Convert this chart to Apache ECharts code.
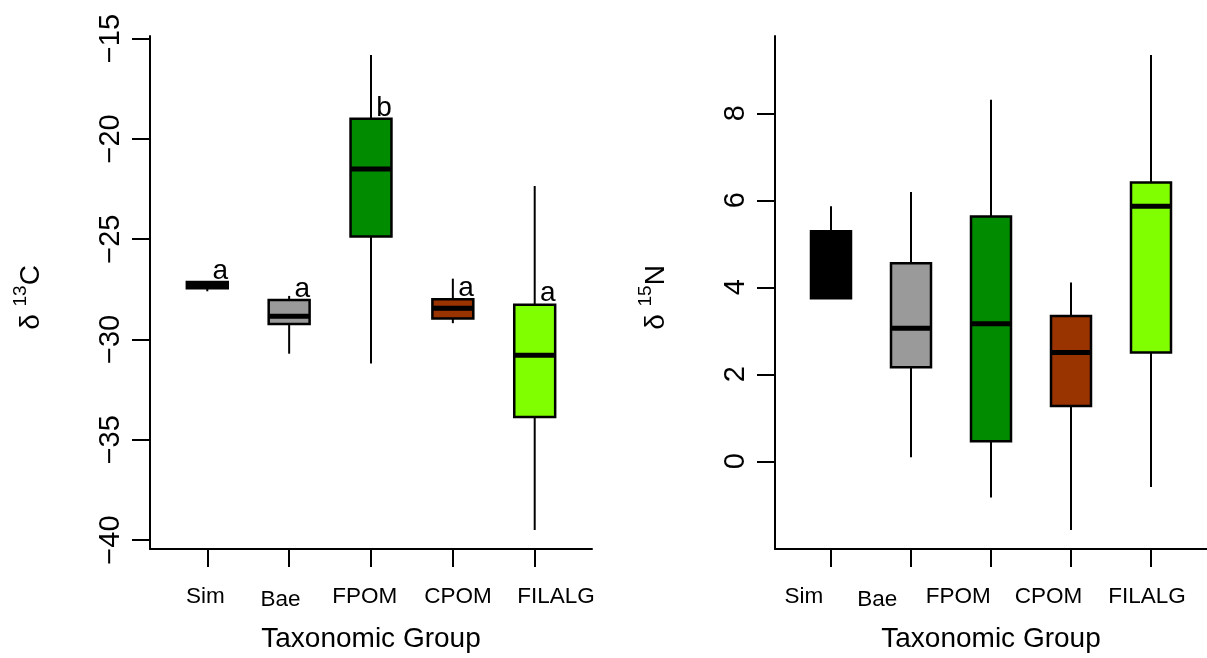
<!DOCTYPE html>
<html>
<head>
<meta charset="utf-8">
<title>δ13C and δ15N by taxonomic group</title>
<script src="https://cdn.jsdelivr.net/npm/echarts@6/dist/echarts.min.js"></script>
<style>
  html, body { margin: 0; padding: 0; background: #ffffff; }
  #chart { width: 1207px; height: 658px; }
</style>
</head>
<body>
<div id="chart"></div>
<script>
// Groups and their fill colours
const categories = ['Sim', 'Bae', 'FPOM', 'CPOM', 'FILALG'];
const boxColors = ['#000000', '#9a9a9a', '#008b00', '#993300', '#7fff00'];

// δ13C summaries per group: whisker ends, quartiles and median
const carbonLow    = [-27.6, -30.71, -31.2, -29.19, -39.5];
const carbonQ1     = [-27.45, -29.23, -24.87, -28.95, -33.87];
const carbonMedian = [-27.3, -28.84, -21.5, -28.44, -30.79];
const carbonQ3     = [-27.14, -28.04, -19.0, -28.0, -28.27];
const carbonHigh   = [-27.14, -27.83, -15.82, -26.97, -22.35];
const carbonLetters = ['a', 'a', 'b', 'a', 'a'];
const carbonTicks = [-40, -35, -30, -25, -20, -15];

// δ15N summaries per group
const nitrogenLow    = [3.75, 0.09, -0.83, -1.58, -0.59];
const nitrogenQ1     = [3.75, 2.16, 0.46, 1.27, 2.50];
const nitrogenMedian = [4.6, 3.06, 3.16, 2.50, 5.86];
const nitrogenQ3     = [5.29, 4.55, 5.63, 3.34, 6.41];
const nitrogenHigh   = [5.86, 6.19, 8.31, 4.11, 9.34];
const nitrogenTicks = [0, 2, 4, 6, 8];

// Group name anchors along each x axis (names are set off their ticks)
const carbonNameAnchors   = [0.977, 1.894, 2.925, 4.063, 5.259];
const nitrogenNameAnchors = [0.66, 1.577, 2.592, 3.72, 4.95];

const FONT = '"Liberation Sans", Arial, Helvetica, sans-serif';
const groupPositions = categories.map((_, i) => i + 1);

// y range: data extent padded by 4% on each side
function paddedRange(lows, highs) {
  const lo = Math.min(...lows), hi = Math.max(...highs);
  const pad = (hi - lo) * 0.04;
  return [lo - pad, hi + pad];
}
const carbonRange = paddedRange(carbonLow, carbonHigh);
const nitrogenRange = paddedRange(nitrogenLow, nitrogenHigh);

function buildRows(low, q1, med, q3, high) {
  return categories.map((_, i) => [i + 1, low[i], q1[i], med[i], q3[i], high[i]]);
}

function boxRenderer(letters) {
  return function (params, api) {
    const i = params.dataIndex;
    const x = api.value(0);
    const pLow = api.coord([x, api.value(1)]);
    const pQ1 = api.coord([x, api.value(2)]);
    const pMed = api.coord([x, api.value(3)]);
    const pQ3 = api.coord([x, api.value(4)]);
    const pHigh = api.coord([x, api.value(5)]);
    const hw = api.size([0.25, 0])[0];
    const cx = pQ1[0];
    const children = [
      { type: 'line', shape: { x1: cx, y1: pQ3[1], x2: cx, y2: pHigh[1] },
        style: { stroke: '#000', lineWidth: 2 } },
      { type: 'line', shape: { x1: cx, y1: pQ1[1], x2: cx, y2: pLow[1] },
        style: { stroke: '#000', lineWidth: 2 } },
      { type: 'rect', shape: { x: cx - hw, y: pQ3[1], width: 2 * hw, height: pQ1[1] - pQ3[1] },
        style: { fill: boxColors[i], stroke: '#000', lineWidth: 2.5 } },
      { type: 'line', shape: { x1: cx - hw, y1: pMed[1], x2: cx + hw, y2: pMed[1] },
        style: { stroke: '#000', lineWidth: 5 } }
    ];
    if (letters) {
      const pl = api.coord([x + 0.16, api.value(4)]);
      children.push({
        type: 'text',
        x: pl[0], y: pl[1] + 3,
        style: { text: letters[i], fill: '#000', font: '28px ' + FONT,
                 align: 'center', verticalAlign: 'bottom' }
      });
    }
    return { type: 'group', children: children };
  };
}

function xAxisFor(gridIndex, nameAnchors) {
  return {
    type: 'value', gridIndex: gridIndex, min: 0.3, max: 5.7,
    name: 'Taxonomic Group', nameLocation: 'middle', nameGap: 76,
    nameTextStyle: { fontFamily: FONT, fontSize: 28, color: '#000' },
    axisLine: { show: true, onZero: false, lineStyle: { color: '#000', width: 2 } },
    axisTick: { show: true, length: 18, customValues: groupPositions,
                lineStyle: { color: '#000', width: 2 } },
    axisLabel: {
      customValues: nameAnchors, margin: 36,
      fontFamily: FONT, fontSize: 22.5, color: '#000',
      formatter: v => {
        const name = categories[Math.round(v) - 1];
        return name === 'Bae' ? '{low|' + name + '}' : name;
      },
      rich: { low: { fontFamily: FONT, fontSize: 22.5, color: '#000', padding: [3, 0, 0, 0] } }
    },
    splitLine: { show: false }
  };
}

function yAxisFor(gridIndex, range, ticks, isotope, element) {
  return {
    type: 'value', gridIndex: gridIndex, min: range[0], max: range[1],
    name: '{n|δ }{s|' + isotope + '}{n|' + element + '}',
    nameLocation: 'middle', nameRotate: 90, nameGap: 105,
    nameTextStyle: {
      padding: [0, 10, 0, 0],
      rich: {
        n: { fontFamily: FONT, fontSize: 28, color: '#000', lineHeight: 34, verticalAlign: 'bottom' },
        s: { fontFamily: FONT, fontSize: 19, color: '#000', lineHeight: 34, verticalAlign: 'top' }
      }
    },
    axisLine: { show: true, onZero: false, lineStyle: { color: '#000', width: 2 } },
    axisTick: { show: true, length: 18, customValues: ticks,
                lineStyle: { color: '#000', width: 2 } },
    axisLabel: {
      customValues: ticks, rotate: 90, margin: 25,
      fontFamily: FONT, fontSize: 29, color: '#000',
      formatter: v => String(v).replace('-', '\u2212')
    },
    splitLine: { show: false }
  };
}

const chart = echarts.init(document.getElementById('chart'), null, { renderer: 'canvas' });
chart.setOption({
  backgroundColor: '#ffffff',
  animation: false,
  grid: [
    { left: 150, width: 442, top: 36, bottom: 104 },
    { left: 775, width: 444, top: 36, bottom: 104 }
  ],
  xAxis: [xAxisFor(0, carbonNameAnchors), xAxisFor(1, nitrogenNameAnchors)],
  yAxis: [
    yAxisFor(0, carbonRange, carbonTicks, '13', 'C'),
    yAxisFor(1, nitrogenRange, nitrogenTicks, '15', 'N')
  ],
  series: [
    {
      type: 'custom', name: 'δ13C', xAxisIndex: 0, yAxisIndex: 0,
      renderItem: boxRenderer(carbonLetters),
      encode: { x: 0, y: [1, 2, 3, 4, 5] },
      data: buildRows(carbonLow, carbonQ1, carbonMedian, carbonQ3, carbonHigh)
    },
    {
      type: 'custom', name: 'δ15N', xAxisIndex: 1, yAxisIndex: 1,
      renderItem: boxRenderer(null),
      encode: { x: 0, y: [1, 2, 3, 4, 5] },
      data: buildRows(nitrogenLow, nitrogenQ1, nitrogenMedian, nitrogenQ3, nitrogenHigh)
    }
  ]
});
</script>
</body>
</html>
